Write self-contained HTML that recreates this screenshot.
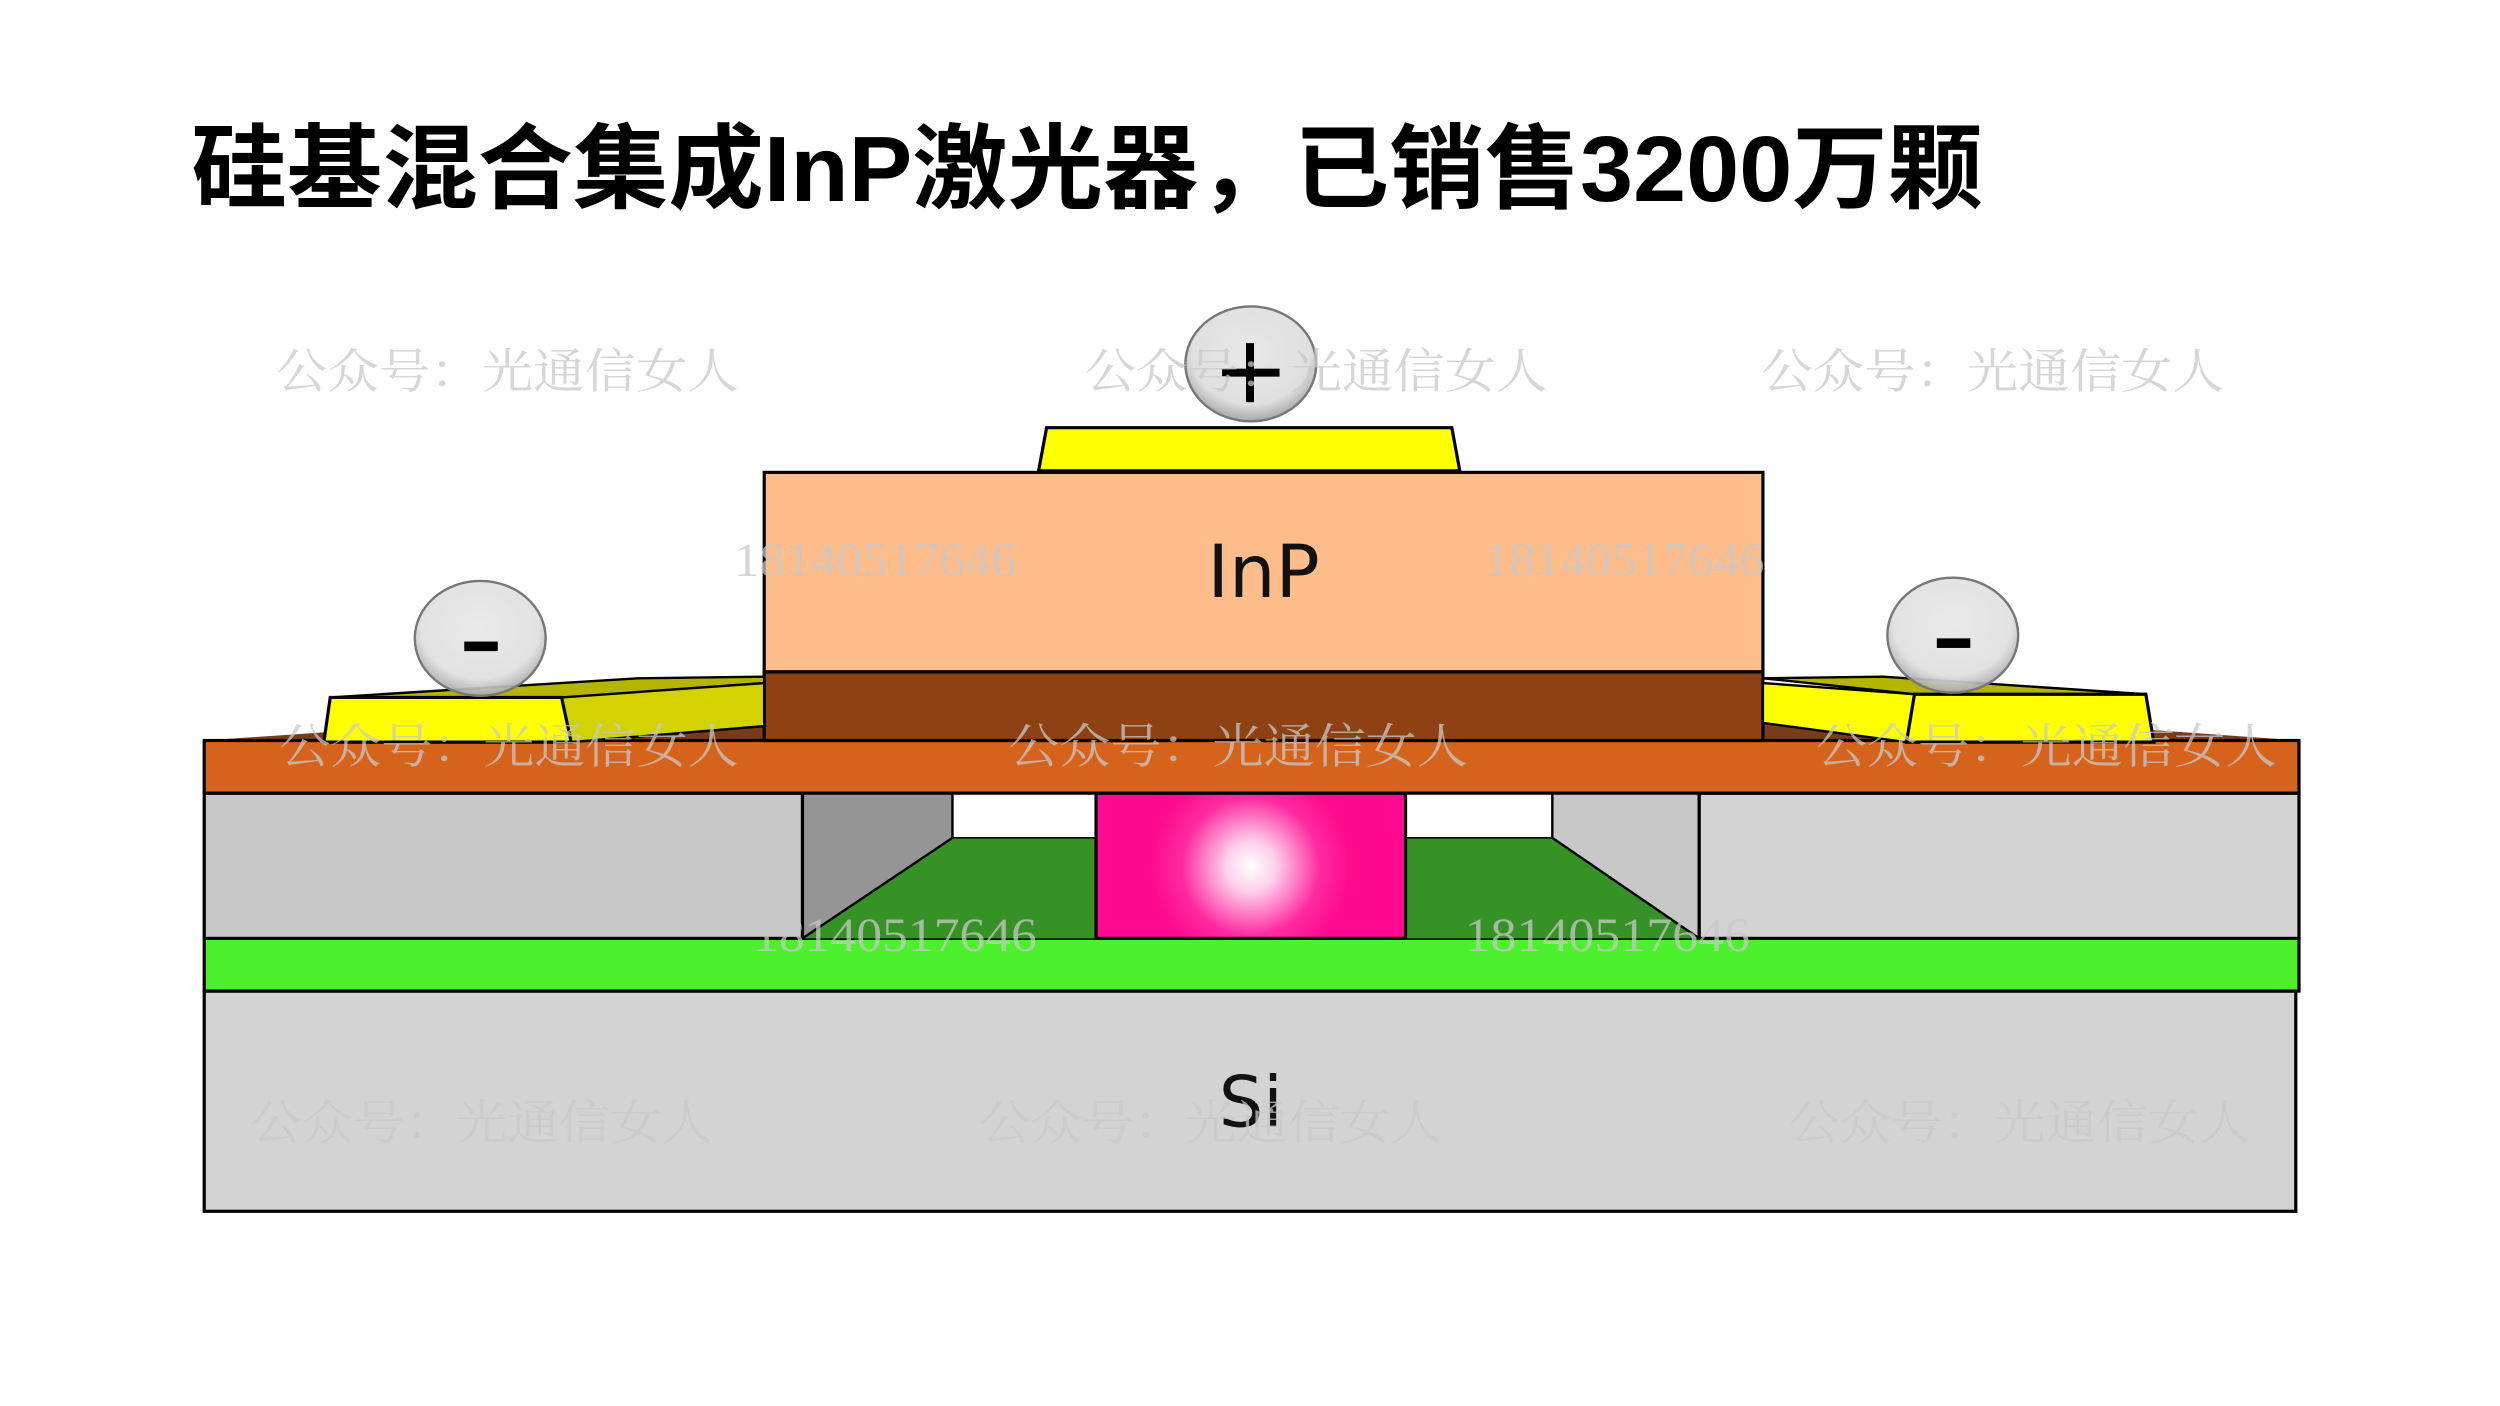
<!DOCTYPE html>
<html><head><meta charset="utf-8"><style>
html,body{margin:0;padding:0;background:#fff;}
svg{display:block;}
.wm{font-family:"Liberation Serif","Noto Serif CJK SC",serif;fill:#c8c8c8;fill-opacity:0.75;font-size:30px;}
</style></head><body>
<svg width="2500" height="1406" viewBox="0 0 1567 881" preserveAspectRatio="none" xmlns="http://www.w3.org/2000/svg">
<defs>
<radialGradient id="glow" gradientUnits="userSpaceOnUse" cx="784" cy="543" r="62">
<stop offset="0" stop-color="#fff"/><stop offset="0.25" stop-color="#ffd0ec"/><stop offset="0.7" stop-color="#ff2aa0"/><stop offset="1" stop-color="#ff0a90"/></radialGradient>
<radialGradient id="bub" cx="50%" cy="40%" r="60%">
<stop offset="0" stop-color="#e8e8e8"/><stop offset="0.75" stop-color="#e0e0e0"/><stop offset="1" stop-color="#a8a8a8"/></radialGradient>
</defs>
<rect width="1567" height="881" fill="#fff"/>
<text x="120" y="126" font-family="'Liberation Sans','Noto Sans CJK SC',sans-serif" font-weight="bold" font-size="58" fill="#000" textLength="1123" lengthAdjust="spacingAndGlyphs">硅基混合集成InP激光器，已销售3200万颗</text>

<rect x="128" y="621" width="1311" height="138" fill="#d3d3d3" stroke="#000" stroke-width="2"/>
<rect x="128" y="588" width="1313" height="33" fill="#4cf02c" stroke="#000" stroke-width="2"/>
<rect x="128" y="497" width="375" height="91" fill="#c8c8c8" stroke="#000" stroke-width="2"/>
<rect x="1065" y="497" width="376" height="91" fill="#d3d3d3" stroke="#000" stroke-width="2"/>
<polygon points="503,497 597,497 597,525 503,588" fill="#959595"/>
<polygon points="597,525 687,525 687,588 503,588" fill="#359225"/>
<polygon points="973,497 1065,497 1065,588 973,525" fill="#c8c8c8"/>
<polygon points="881,525 973,525 1065,588 881,588" fill="#359225"/>
<line x1="503" y1="497" x2="503" y2="588" stroke="#000" stroke-width="2"/>
<line x1="1065" y1="497" x2="1065" y2="588" stroke="#000" stroke-width="2"/>
<polyline points="597,497 597,525 503,588" fill="none" stroke="#000" stroke-width="1.5"/>
<polyline points="973,497 973,525 1065,588" fill="none" stroke="#000" stroke-width="1.5"/>
<line x1="597" y1="525" x2="687" y2="525" stroke="#000" stroke-width="1"/>
<line x1="881" y1="525" x2="973" y2="525" stroke="#000" stroke-width="1"/>
<rect x="687" y="497" width="194" height="91" fill="url(#glow)" stroke="#000" stroke-width="2"/>
<polygon points="128,464 479,440 479,464" fill="#7a3c18"/>
<polygon points="1105,440 1441,464 1105,464" fill="#7a3c18"/>
<rect x="128" y="464" width="1313" height="33" fill="#d5631b" stroke="#000" stroke-width="2"/>
<rect x="479" y="296" width="626" height="125" fill="#ffbd8c" stroke="#000" stroke-width="2"/>
<rect x="479" y="421" width="626" height="43" fill="#8e4213" stroke="#000" stroke-width="2"/>
<text x="792" y="374" font-family="'DejaVu Sans','Liberation Sans',sans-serif" font-size="46" text-anchor="middle" fill="#111">InP</text>
<text x="784" y="706" font-family="'DejaVu Sans','Liberation Sans',sans-serif" font-size="44" text-anchor="middle" fill="#111">Si</text>
<polygon points="656,268 910,268 915,295 651,295" fill="#ffff00" stroke="#000" stroke-width="2"/>
<polygon points="207,437 400,425 479,424 479,437 352,437" fill="#b5b500" stroke="#000" stroke-width="1.5"/>
<polygon points="352,437 479,428 479,455 358,465" fill="#d2d200" stroke="#000" stroke-width="1.5"/>
<polygon points="207,437 352,437 358,465 203,465" fill="#ffff00" stroke="#000" stroke-width="2"/>
<polygon points="1105,425 1180,424 1345,435 1200,435" fill="#b5b500" stroke="#000" stroke-width="1.5"/>
<polygon points="1105,428 1200,435 1195,465 1105,453" fill="#ffff00" stroke="#000" stroke-width="1.5"/>
<polygon points="1200,435 1345,435 1350,465 1195,465" fill="#ffff00" stroke="#000" stroke-width="2"/>
<ellipse cx="784" cy="228" rx="41" ry="36" fill="url(#bub)" stroke="#777" stroke-width="1.5"/>
<rect x="766" y="231" width="36" height="5" fill="#000"/>
<rect x="781" y="215" width="5" height="37" fill="#000"/>
<ellipse cx="301" cy="400" rx="41" ry="36" fill="url(#bub)" stroke="#777" stroke-width="1.5" fill-opacity="0.92"/>
<rect x="291" y="402" width="21" height="6" fill="#000"/>
<ellipse cx="1224" cy="398" rx="41" ry="36" fill="url(#bub)" stroke="#777" stroke-width="1.5" fill-opacity="0.92"/>
<rect x="1214" y="400" width="21" height="6" fill="#000"/>
<g class="wm">
<text x="173" y="243" textLength="290" lengthAdjust="spacingAndGlyphs">公众号：光通信女人</text>
<text x="680" y="243" textLength="290" lengthAdjust="spacingAndGlyphs">公众号：光通信女人</text>
<text x="1104" y="243" textLength="290" lengthAdjust="spacingAndGlyphs">公众号：光通信女人</text>
<text x="175" y="478" textLength="288" lengthAdjust="spacingAndGlyphs">公众号：光通信女人</text>
<text x="632" y="478" textLength="288" lengthAdjust="spacingAndGlyphs">公众号：光通信女人</text>
<text x="1138" y="478" textLength="289" lengthAdjust="spacingAndGlyphs">公众号：光通信女人</text>
<text x="157" y="714" textLength="290" lengthAdjust="spacingAndGlyphs">公众号：光通信女人</text>
<text x="614" y="714" textLength="290" lengthAdjust="spacingAndGlyphs">公众号：光通信女人</text>
<text x="1121" y="714" textLength="290" lengthAdjust="spacingAndGlyphs">公众号：光通信女人</text>
<text x="460" y="361" textLength="177" lengthAdjust="spacingAndGlyphs">18140517646</text>
<text x="930" y="361" textLength="176" lengthAdjust="spacingAndGlyphs">18140517646</text>
<text x="472" y="596" textLength="178" lengthAdjust="spacingAndGlyphs">18140517646</text>
<text x="918" y="596" textLength="179" lengthAdjust="spacingAndGlyphs">18140517646</text>
</g>
</svg>
</body></html>
